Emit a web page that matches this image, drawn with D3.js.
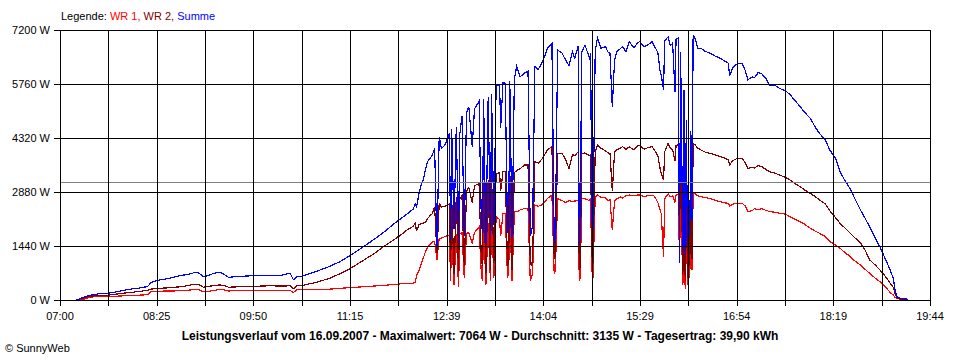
<!DOCTYPE html>
<html><head><meta charset="utf-8">
<script src="https://cdn.jsdelivr.net/npm/d3@7"></script>
<style>
body{margin:0;background:#fff}
svg{display:block}
text{font-family:"Liberation Sans",Arial,sans-serif}
</style>
</head><body>
<svg id="chart" width="960" height="360"></svg>
<script>
const times = ["07:14","07:18","07:21","07:25","07:30","07:36","07:42","07:48","07:55","08:02","08:10","08:17","08:20","08:25","08:33","08:40","08:45","08:52","08:58","09:02","09:06","09:10","09:14","09:20","09:24","09:28","09:35","09:45","09:55","10:05","10:15","10:22","10:25","10:28","10:33","10:45","10:57","11:05","11:15","11:25","11:35","11:44","11:52","11:59","12:05","12:10","12:12","12:13","12:14","12:15","12:17","12:19","12:21","12:23","12:25","12:27","12:29","12:31","12:33","12:35","12:38","12:42","12:43","12:44","12:46","12:48","12:50","12:51","12:53","12:55","12:57","12:59","13:02","13:04","13:08","13:10","13:11","13:12","13:14","13:16","13:18","13:19","13:21","13:23","13:26","13:27","13:29","13:31","13:33","13:34","13:35","13:37","13:39","13:41","13:44","13:48","13:51","13:53","13:54","13:55","13:57","14:00","14:03","14:06","14:08","14:12","14:14","14:15","14:17","14:21","14:24","14:27","14:30","14:32","14:35","14:36","14:37","14:38","14:41","14:45","14:46","14:47","14:48","14:50","14:52","14:55","14:59","15:01","15:03","15:05","15:07","15:09","15:12","15:14","15:17","15:20","15:24","15:27","15:29","15:33","15:36","15:40","15:42","15:45","15:47","15:48","15:50","15:51","15:54","15:56","15:58","16:00","16:01","16:03","16:04","16:05","16:07","16:08","16:09","16:10","16:11","16:12","16:13","16:14","16:15","16:16","16:18","16:20","16:23","16:26","16:31","16:35","16:40","16:44","16:47","16:48","16:51","16:55","16:59","17:02","17:04","17:08","17:10","17:13","17:16","17:20","17:23","17:28","17:32","17:37","17:41","17:45","17:50","17:54","17:59","18:03","18:07","18:12","18:16","18:21","18:25","18:29","18:34","18:38","18:43","18:47","18:51","18:56","19:00","19:04","19:09","19:12","19:13","19:15","19:18","19:23","19:24"];

const wr1 = [0,0,20,60,90,90,100,100,110,120,130,140,220,230,240,240,250,260,280,270,220,230,250,280,270,240,250,260,250,260,250,260,200,270,280,290,290,310,330,350,370,390,410,430,440,450,480,640,720,750,950,1120,1290,1420,1480,1550,1560,1070,1650,1650,1690,1730,500,1750,400,1760,350,1770,1800,600,1780,1790,1500,1800,1950,700,500,2000,400,2050,500,2150,600,2220,2150,1700,2300,2310,600,700,2300,500,2350,2350,2400,2440,2450,500,600,700,2530,2500,2530,2620,2710,2800,700,800,2700,2650,2600,2650,2620,2640,2650,500,600,2700,2700,2650,2700,800,600,2750,2800,2740,2720,2650,2670,1870,2650,2700,2750,2720,2780,2800,2780,2800,2800,2760,2780,2790,2770,2600,2400,2300,1150,2700,2830,2750,2780,2600,2800,2820,1000,2750,400,2500,300,2300,400,1500,600,2000,800,2830,2830,2780,2760,2730,2710,2660,2620,2590,2580,2500,2560,2580,2580,2500,2360,2380,2440,2400,2440,2390,2360,2340,2310,2290,2220,2160,2090,2020,1910,1840,1780,1690,1560,1470,1380,1270,1160,1040,930,820,710,580,490,380,200,130,80,40,20,0,0];

const wr2 = [0,30,60,90,110,120,130,150,180,200,230,260,290,310,320,340,350,380,420,410,340,360,380,400,390,340,350,370,370,380,370,380,300,380,390,470,580,690,840,1030,1220,1420,1580,1730,1870,1960,2050,1850,1880,2000,2040,2050,2080,2180,2250,2300,2480,1250,2580,2480,2500,2560,800,2700,700,2750,750,2700,2780,900,2900,3000,2600,3050,3100,1100,900,3150,700,3200,800,3300,1000,3350,3400,2900,3420,3420,900,1000,3450,800,3400,3450,3500,3600,3600,1000,900,1100,3690,3650,3750,3900,4000,4090,1100,1200,3900,3900,3750,3500,3880,3850,3950,800,900,3900,3920,3850,3880,1200,1000,3950,4130,4050,3980,3930,3910,2900,3940,4000,4050,4090,4020,4080,4000,4100,4130,4020,4060,4090,4000,3850,3500,3380,3200,3950,4180,4050,4000,3700,4120,4140,1400,4000,700,3800,500,3300,600,2200,900,3000,1100,4170,4130,4050,4000,3950,3910,3870,3820,3780,3730,3600,3720,3780,3780,3650,3510,3540,3520,3580,3560,3480,3420,3380,3330,3270,3200,3110,3020,2930,2840,2760,2670,2560,2380,2200,2040,1930,1780,1660,1520,1330,1070,930,800,660,450,330,200,60,30,0,0];

const summe = [0,40,80,110,150,170,180,210,250,290,320,360,470,520,560,610,650,680,730,720,620,650,700,740,690,600,630,640,660,650,660,720,540,620,640,760,900,1010,1190,1390,1600,1800,2000,2160,2300,2420,2560,2490,2620,2800,3050,3200,3500,3700,3780,3870,4050,1440,4350,4040,4130,4440,1600,4550,1900,4600,1500,4400,4900,1700,5000,5150,4090,5100,5300,2100,1800,5350,1500,5400,1700,5500,2000,5700,5750,4600,5800,5780,1800,1900,5850,1650,5900,6220,5950,6050,6100,1700,1800,2000,6220,6150,6310,6530,6710,6840,1500,1700,6670,6580,6400,6250,6620,6450,6760,1500,1700,6600,6800,6450,6580,2100,1900,6650,6980,6710,6760,6620,6580,5150,6400,6620,6700,6760,6620,6890,6720,6850,6890,6760,6800,6890,6770,6600,6100,6000,5600,6900,7020,6780,6850,5560,6950,6980,1000,6600,1300,5600,1200,4800,1500,3000,1700,4500,2100,7060,6960,6710,6710,6640,6580,6510,6440,6370,6310,5980,6200,6310,6310,6100,5870,5950,5930,6060,6040,5900,5730,5720,5640,5580,5480,5330,5160,5000,4840,4620,4440,4270,4000,3780,3420,3200,2960,2700,2400,2180,1950,1640,1420,1150,800,560,300,90,50,40,0];

const yTickValues = [0, 1440, 2880, 4320, 5760, 7200];
const xTickLabels = ["07:00","08:25","09:50","11:15","12:39","14:04","15:29","16:54","18:19","19:44"];
const seriesNames = ["WR 1", "WR 2", "Summe"];
const seriesColors = ["#ff0000", "#800000", "#0000ff"];
const averageValue = 3135;
const titleText = "Leistungsverlauf vom 16.09.2007 - Maximalwert: 7064 W - Durchschnitt: 3135 W - Tagesertrag: 39,90 kWh";
const creditText = "\u00A9 SunnyWeb";

const parse = d3.timeParse("%H:%M");
const t0 = parse(xTickLabels[0]), t1 = parse(xTickLabels[xTickLabels.length - 1]);
const x = d3.scaleTime().domain([t0, t1]).range([60, 930]);
const y = d3.scaleLinear().domain([0, 7200]).range([300, 30]);
const svg = d3.select("#chart");

const px = v => Math.round(v) + 0.5;
const nSteps = (xTickLabels.length - 1) * 2;
const gridTimes = d3.range(nSteps + 1).map(k => new Date(+t0 + k * (t1 - t0) / nSteps));

// data lines
const dates = times.map(parse);
const allSeries = [wr1, wr2, summe];
allSeries.forEach((vals, i) => {
  const line = d3.line().x((d, j) => x(dates[j])).y(d => y(d));
  svg.append("path")
    .attr("d", line(vals))
    .attr("fill", "none")
    .attr("stroke", seriesColors[i])
    .attr("stroke-width", 1.2)
    .attr("shape-rendering", "crispEdges");
});

// average line
svg.append("line")
  .attr("x1", 60).attr("x2", 930)
  .attr("y1", px(y(averageValue))).attr("y2", px(y(averageValue)))
  .attr("stroke", "#808080").attr("shape-rendering", "crispEdges");

// vertical grid + bottom ticks
svg.append("g").selectAll("line").data(gridTimes).join("line")
  .attr("x1", d => px(x(d))).attr("x2", d => px(x(d)))
  .attr("y1", 30).attr("y2", 306)
  .attr("stroke", "#000").attr("shape-rendering", "crispEdges");

// horizontal grid + left ticks
svg.append("g").selectAll("line").data(yTickValues).join("line")
  .attr("x1", 54).attr("x2", 931)
  .attr("y1", d => px(y(d))).attr("y2", d => px(y(d)))
  .attr("stroke", "#000").attr("shape-rendering", "crispEdges");

// y labels
svg.append("g").selectAll("text").data(yTickValues).join("text")
  .attr("x", 50).attr("y", d => Math.round(y(d)) + 4)
  .attr("text-anchor", "end").attr("font-size", 11)
  .text(d => d + " W");

// x labels
svg.append("g").selectAll("text").data(xTickLabels).join("text")
  .attr("x", (d, i) => x(gridTimes[i * 2]))
  .attr("y", 320)
  .attr("text-anchor", "middle").attr("font-size", 11)
  .text(d => d);

// legend
const leg = svg.append("text").attr("x", 61).attr("y", 20).attr("font-size", 11);
leg.append("tspan").attr("fill", "#000").text("Legende: ");
seriesNames.forEach((n, i) => {
  leg.append("tspan").attr("fill", seriesColors[i]).text(n + (i < seriesNames.length - 1 ? ", " : ""));
});

// title
svg.append("text").attr("x", 480).attr("y", 340)
  .attr("text-anchor", "middle").attr("font-size", 12).attr("font-weight", "bold")
  .text(titleText);

// credit
svg.append("text").attr("x", 5).attr("y", 352).attr("font-size", 11).text(creditText);
</script>
</body></html>
